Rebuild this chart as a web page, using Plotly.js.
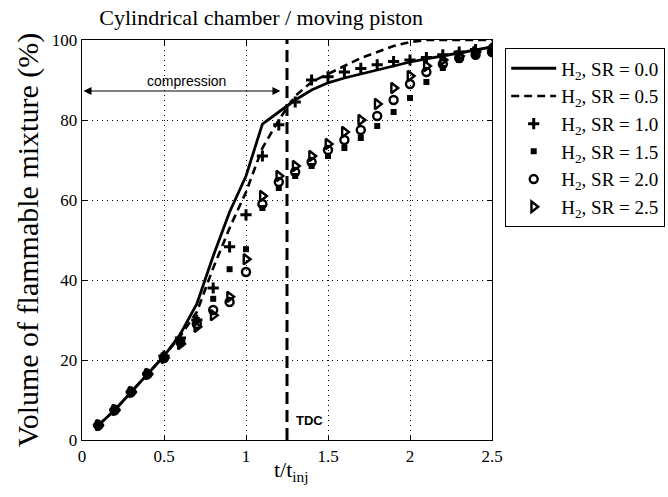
<!DOCTYPE html>
<html>
<head>
<meta charset="utf-8">
<script src="https://cdn.plot.ly/plotly-3.0.1.min.js"></script>
<style>html,body{margin:0;padding:0;background:#fff;}#chart{width:668px;height:497px;}</style>
</head>
<body>
<div id="chart"></div>
<script>
// t / t_inj sampling
const t = [0.1,0.2,0.3,0.4,0.5,0.6,0.7,0.8,0.9,1.0,1.1,1.2,1.3,1.4,1.5,1.6,1.7,1.8,1.9,2.0,2.1,2.2,2.3,2.4,2.5];

// Volume of flammable mixture (%)
const sr00 = [3.7,7.5,12,16.5,21,26.5,34,46,57,66,79,82,85,87.5,89.3,90.5,91.5,92.5,93.5,94.5,95.3,96,96.8,97.5,98.3];
const sr05 = [3.7,7.5,12,16.5,21,26,32,43,53,62,73,80,86,89.5,91.5,93.5,95.5,97,98.5,99.5,100,100,100,100,100];
const sr10 = [3.7,7.5,12,16.5,21,25.5,30,38,48.3,56.3,71,78.8,84.5,90,90.8,92,92.9,93.8,94.6,95,95.6,96.3,97,97.6,98];
const sr15 = [3.7,7.5,12,16.5,20.5,24.5,30,35.3,42.7,47.7,58,63,66,68.5,71,73,75.5,78.5,82,85.5,89.5,93,95,96,96.8];
const sr20 = [3.7,7.5,12,16.5,20.5,24.5,29,32.5,34.5,42,59,64.5,67,69.5,72.5,75,77.5,81,85,89,92,94,95.5,96.3,97];
const sr25 = [3.7,7.5,12,16.5,20.5,24,28.3,31.2,35.8,45.2,61,66,68.5,71,74,77,80,84,88,91,93.5,95,96,97,97.5];

const xTicks = [0,0.5,1,1.5,2,2.5];
const xTickText = ["0","0.5","1","1.5","2","2.5"];
const yTicks = [0,20,40,60,80,100];

const TDC = 1.25;
const compressionY = 87.25;

const names = ["H<sub>2</sub>, SR = 0.0","H<sub>2</sub>, SR = 0.5","H<sub>2</sub>, SR = 1.0",
               "H<sub>2</sub>, SR = 1.5","H<sub>2</sub>, SR = 2.0","H<sub>2</sub>, SR = 2.5"];

const serif = "Liberation Serif, Times New Roman, serif";
const sans = "Liberation Sans, Arial, sans-serif";

const traces = [
  {x:t, y:sr15, mode:'markers', name:names[3], legendgroup:'g4', legendrank:4,
   marker:{symbol:'square', size:6, color:'#000'}},
  {x:t, y:sr20, mode:'markers', name:names[4], legendgroup:'g5', legendrank:5,
   marker:{symbol:'circle-open', size:8, color:'#000', line:{width:2.4, color:'#000'}}},
  {x:t, y:sr25, mode:'markers', name:names[5], legendgroup:'g6', legendrank:6,
   marker:{symbol:'triangle-right-open', size:9, color:'#000', line:{width:2.4, color:'#000'}}},
  {x:t, y:sr10, mode:'markers', name:names[2], legendgroup:'g3', legendrank:3,
   marker:{symbol:'cross-thin-open', size:8, color:'#000', line:{width:3, color:'#000'}}},
  {x:t, y:sr05, mode:'lines', name:names[1], legendgroup:'g2', legendrank:2,
   line:{color:'#000', width:2.6, dash:'8px,5px'}},
  {x:t, y:sr00, mode:'lines', name:names[0], legendgroup:'g1', legendrank:1,
   line:{color:'#000', width:2.8}}
];

const axisCommon = {
  showline:true, linecolor:'#000', linewidth:1.3, mirror:'allticks',
  ticks:'inside', ticklen:5, tickcolor:'#000', tickwidth:1,
  showgrid:true, gridcolor:'#000', gridwidth:1, griddash:'1px,4px',
  zeroline:false, tickfont:{family:serif, size:17, color:'#000'}
};

const layout = {
  width:668, height:497,
  margin:{l:82, r:176, t:40, b:57},
  paper_bgcolor:'#fff', plot_bgcolor:'#fff',
  title:{text:'Cylindrical chamber / moving piston', font:{family:serif, size:22, color:'#000'},
         x:0.391, xref:'container', xanchor:'center', y:0.966, yref:'container', yanchor:'middle'},
  xaxis:Object.assign({}, axisCommon, {range:[0,2.5], tickvals:xTicks, ticktext:xTickText}),
  yaxis:Object.assign({}, axisCommon, {range:[0,100], tickvals:yTicks,
    title:{text:'Volume of flammable mixture (%)', font:{family:serif, size:30, color:'#000'}, standoff:4}}),
  showlegend:true,
  legend:{x:0.756, xref:'container', xanchor:'left', y:0.903, yref:'container', yanchor:'top', traceorder:'normal',
    font:{family:serif, size:19, color:'#000'}, bordercolor:'#000', borderwidth:1.2,
    bgcolor:'#fff', tracegroupgap:18, itemwidth:45},
  shapes:[
    {type:'line', xref:'x', yref:'y', x0:TDC, x1:TDC, y0:0, y1:100,
     line:{color:'#000', width:3, dash:'12px,6px'}}
  ],
  annotations:[
    {x:1.21, y:compressionY, ax:0, ay:compressionY, xref:'x', yref:'y', axref:'x', ayref:'y',
     text:'', showarrow:true, arrowside:'end+start', arrowhead:2, arrowsize:1.6, arrowwidth:1, arrowcolor:'#000'},
    {x:0.64, y:89.8, xref:'x', yref:'y', text:'compression', showarrow:false,
     font:{family:sans, size:14, color:'#000'}},
    {x:1.29, y:5, xref:'x', yref:'y', xanchor:'left', text:'<b>TDC</b>', showarrow:false,
     font:{family:sans, size:13, color:'#000'}},
    {x:0.512, y:-0.078, xref:'paper', yref:'paper', xanchor:'center', yanchor:'middle',
     text:'t/t<sub>inj</sub>', showarrow:false, font:{family:serif, size:22, color:'#000'}}
  ]
};

Plotly.newPlot('chart', traces, layout, {displayModeBar:false, staticPlot:true});
</script>
</body>
</html>
